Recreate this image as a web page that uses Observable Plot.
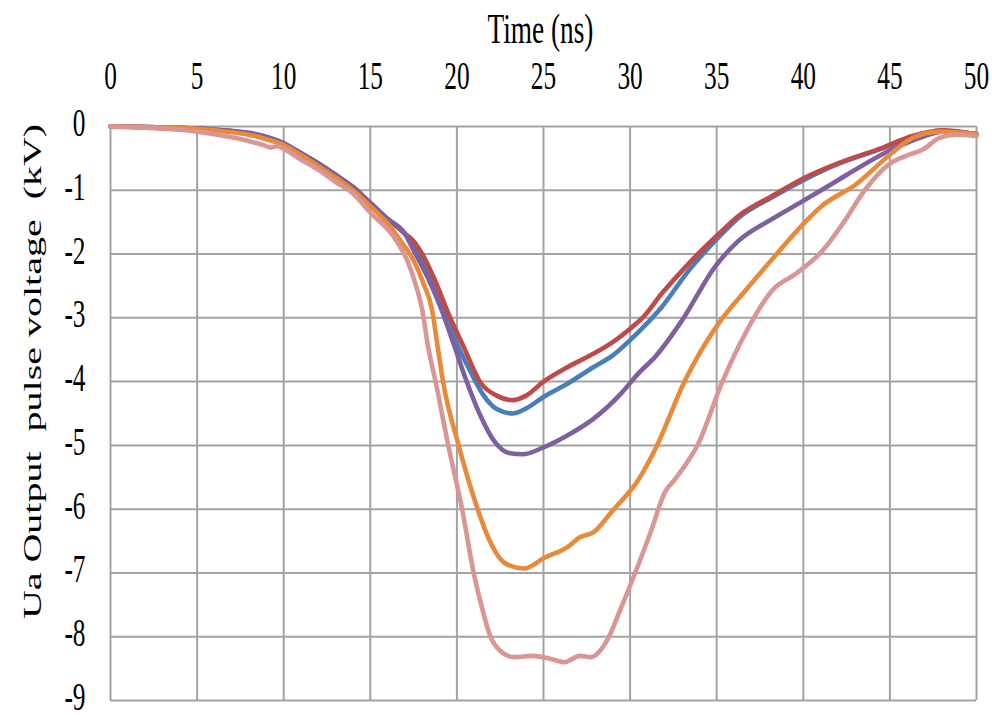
<!DOCTYPE html>
<html>
<head>
<meta charset="utf-8">
<script src="https://cdn.jsdelivr.net/npm/d3@7"></script>
<script src="https://cdn.jsdelivr.net/npm/@observablehq/plot@0.6"></script>
<style>
  html, body { margin: 0; padding: 0; background: #fff; overflow: hidden; }
  #chart { width: 992px; height: 715px; }
</style>
</head>
<body>
<div id="chart"></div>
<script>
// ---- data ----
const xTicks = [0, 5, 10, 15, 20, 25, 30, 35, 40, 45, 50];
const yTicks = [0, -1, -2, -3, -4, -5, -6, -7, -8, -9];
const xLabel = "Time (ns)";
const yLabel = "Ua Output  pulse voltage  (kV)";

const seriesNames = ["blue", "red", "purple", "orange", "pink"];
const seriesColors = ["#4a7ebb", "#be4b48", "#7d60a0", "#e9893a", "#d99694"];

const redTime = [0,2,4,6,8,9,10,11,12,13,14,15,16,17,17.5,18,18.65,19.6,20.4,21.4,22.3,23.2,24.0,25,26.4,27.9,29,30,30.68,31.83,33.38,35.1,36.27,38.2,40.1,42.07,44.6,46.3,48.05,50];
const redVolt = [0,-0.01,-0.02,-0.05,-0.11,-0.17,-0.27,-0.42,-0.58,-0.76,-0.95,-1.2,-1.45,-1.68,-1.8,-2.0,-2.36,-2.99,-3.46,-4.03,-4.22,-4.29,-4.22,-4.0,-3.77,-3.56,-3.38,-3.17,-3.01,-2.62,-2.15,-1.69,-1.40,-1.09,-0.80,-0.57,-0.33,-0.15,-0.06,-0.12];

const blueTime = [0,2,4,6,8,9,10,11,12,13,14,15,16,17,17.6,18.5,19.34,20.0,20.8,21.5,22.3,23.2,24.0,25,26.4,27.9,29,30,30.68,31.83,33.38,35.1,36.27,38.2,40.1,42.07,44.6,46.3,48.05,50];
const blueVolt = [0,-0.01,-0.02,-0.05,-0.11,-0.17,-0.27,-0.42,-0.58,-0.76,-0.95,-1.2,-1.45,-1.68,-1.89,-2.36,-2.88,-3.4,-3.85,-4.2,-4.43,-4.5,-4.42,-4.24,-4.03,-3.77,-3.59,-3.35,-3.17,-2.83,-2.26,-1.74,-1.43,-1.11,-0.83,-0.58,-0.34,-0.16,-0.07,-0.12];

const purpleTime = [0,2,4,6,8,9,10,11,12,13,14,15,16,17,17.5,18.3,19.05,19.8,20.5,21.3,22.2,23.0,23.8,25,26.4,27.9,29.5,30.48,31.45,33.0,34.9,36.27,38.2,40.1,42.07,44.96,46.9,48.05,50];
const purpleVolt = [0,-0.01,-0.02,-0.05,-0.1,-0.16,-0.26,-0.42,-0.58,-0.76,-0.95,-1.2,-1.45,-1.68,-1.94,-2.36,-2.83,-3.4,-3.95,-4.5,-4.95,-5.12,-5.14,-5.03,-4.84,-4.58,-4.18,-3.87,-3.61,-3.04,-2.2,-1.79,-1.45,-1.15,-0.83,-0.38,-0.16,-0.08,-0.12];

const orangeTime = [0,2,4,6,8,9,10,11,12,13,14,15,16,16.74,17.5,18.07,18.57,18.86,19.2,20.1,21.2,21.9,22.8,23.9,25,26.4,27.1,27.9,29.0,29.95,30.3,31.45,33.19,35.1,36.66,38.4,40.1,41.1,43.03,44.96,46.3,47.86,50];
const orangeVolt = [0,-0.01,-0.02,-0.06,-0.13,-0.2,-0.29,-0.45,-0.62,-0.8,-1.0,-1.25,-1.52,-1.79,-2.1,-2.46,-2.88,-3.4,-4.0,-5.0,-6.0,-6.5,-6.85,-6.93,-6.77,-6.59,-6.44,-6.36,-6.02,-5.73,-5.61,-5.06,-3.97,-3.09,-2.57,-2.02,-1.5,-1.24,-0.91,-0.45,-0.18,-0.08,-0.12];

const pinkTime = [0,2,4,5,6,7,8,8.8,9.3,9.6,10,11,12,13,14,15,16.35,17.13,17.6,18.0,18.34,18.77,19.5,20.3,20.97,21.5,21.94,22.5,23.3,24.4,25.6,26.2,27.1,27.7,28.7,29.4,30.39,31.2,32.0,32.6,33.96,35.3,36.66,38.2,39.56,41.1,42.26,43.6,44.96,45.93,46.9,47.86,48.8,50];
const pinkVolt = [0,-0.02,-0.05,-0.08,-0.12,-0.17,-0.23,-0.29,-0.33,-0.31,-0.35,-0.52,-0.68,-0.87,-1.05,-1.35,-1.73,-2.1,-2.46,-2.88,-3.46,-4.0,-5.0,-6.0,-7.0,-7.6,-8.0,-8.22,-8.32,-8.3,-8.36,-8.4,-8.3,-8.32,-8.04,-7.6,-6.93,-6.35,-5.74,-5.53,-4.96,-4.02,-3.24,-2.57,-2.31,-1.95,-1.53,-0.98,-0.59,-0.46,-0.36,-0.18,-0.13,-0.15];

// ---- build table ----
const seriesTimes = {blue: blueTime, red: redTime, purple: purpleTime, orange: orangeTime, pink: pinkTime};
const seriesVolts = {blue: blueVolt, red: redVolt, purple: purpleVolt, orange: orangeVolt, pink: pinkVolt};

const lineMarks = seriesNames.map((name, i) => {
  const rows = seriesTimes[name].map((t, j) => ({t, v: seriesVolts[name][j]}));
  return Plot.line(rows, {x: "t", y: "v", stroke: seriesColors[i], strokeWidth: 4.6, curve: "monotone-x", strokeLinejoin: "round", strokeLinecap: "round"});
});

const fontFamily = "'Liberation Serif', 'Times New Roman', serif";

const chart = Plot.plot({
  width: 992,
  height: 715,
  marginLeft: 110,
  marginRight: 16,
  marginTop: 126,
  marginBottom: 15,
  style: {fontFamily, fontSize: "39px", color: "#000", background: "#fff", overflow: "visible"},
  x: {domain: [0, 50]},
  y: {domain: [-9, 0]},
  marks: [
    Plot.gridX(xTicks, {stroke: "#a3a3a3", strokeOpacity: 1, strokeWidth: 2}),
    Plot.gridY(yTicks, {stroke: "#a3a3a3", strokeOpacity: 1, strokeWidth: 2}),
    Plot.axisX(xTicks, {anchor: "top", tickSize: 0, tickPadding: 38, label: null, tickFormat: d => String(d), fontSize: 39}),
    Plot.axisY(yTicks, {anchor: "left", tickSize: 0, tickPadding: 25, dy: -3, label: null, tickFormat: d => String(d), fontSize: 39}),
    ...lineMarks,
    Plot.text([xLabel], {frameAnchor: "top", text: d => d, lineAnchor: "bottom", textAnchor: "middle", dx: -3, dy: -84, fontSize: 42, fill: "#000"}),
    Plot.text([yLabel], {frameAnchor: "left", text: d => d, rotate: -90, lineAnchor: "bottom", textAnchor: "middle", dx: -70, dy: -42, fontSize: 40, fill: "#000", fontWeight: "normal"})
  ]
});

// The reference's lettering is horizontally condensed: squeeze each text about its anchor.
chart.querySelectorAll("text").forEach(t => {
  const tr = t.getAttribute("transform") || "";
  const rotated = /rotate/.test(tr);
  t.setAttribute("transform", (tr + (rotated ? " scale(1,0.62)" : " scale(0.65,1)")).trim());
});

document.getElementById("chart").appendChild(chart);
</script>
</body>
</html>
